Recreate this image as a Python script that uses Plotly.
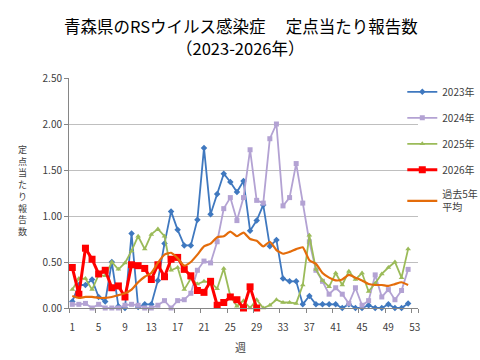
import plotly.graph_objects as go

weeks = list(range(1, 53))
weeks_2026 = list(range(1, 30))

y2023 = [0.07, 0.25, 0.25, 0.31, 0.12, 0.07, 0.50, 0.02, 0.00, 0.81,
         0.01, 0.04, 0.04, 0.30, 0.70, 1.05, 0.85, 0.68, 0.68, 0.96,
         1.74, 1.02, 1.24, 1.46, 1.37, 1.26, 1.38, 0.84, 0.95, 1.12,
         0.67, 0.74, 0.32, 0.29, 0.29, 0.04, 0.13, 0.04, 0.04, 0.04,
         0.04, 0.00, 0.04, 0.00, 0.00, 0.03, 0.00, 0.00, 0.04, 0.00,
         0.00, 0.05]
y2024 = [0.04, 0.04, 0.05, 0.00, 0.04, 0.00, 0.00, 0.00, 0.03, 0.04,
         0.03, 0.00, 0.00, 0.03, 0.08, 0.00, 0.08, 0.09, 0.16, 0.41,
         0.51, 0.49, 0.72, 1.08, 1.20, 0.95, 1.20, 1.72, 1.17, 1.14,
         1.84, 2.00, 1.11, 1.20, 1.57, 1.14, 0.72, 0.41, 0.29, 0.15,
         0.22, 0.15, 0.05, 0.22, 0.03, 0.08, 0.36, 0.12, 0.20, 0.09,
         0.19, 0.42]
y2025 = [0.20, 0.32, 0.32, 0.20, 0.36, 0.35, 0.50, 0.42, 0.49, 0.62,
         0.78, 0.64, 0.80, 0.86, 0.78, 0.41, 0.44, 0.20, 0.32, 0.26,
         0.29, 0.28, 0.21, 0.43, 0.13, 0.02, 0.08, 0.00, 0.09, 0.00,
         0.03, 0.09, 0.06, 0.06, 0.05, 0.25, 0.79, 0.42, 0.30, 0.23,
         0.38, 0.25, 0.40, 0.31, 0.38, 0.18, 0.27, 0.37, 0.44, 0.50,
         0.33, 0.64]
y2026 = [0.44, 0.15, 0.65, 0.53, 0.37, 0.41, 0.22, 0.24, 0.12, 0.47,
         0.46, 0.43, 0.31, 0.47, 0.34, 0.53, 0.55, 0.42, 0.35, 0.19,
         0.17, 0.29, 0.03, 0.06, 0.12, 0.09, 0.00, 0.23, 0.00]
y_avg = [0.13, 0.11, 0.12, 0.12, 0.11, 0.11, 0.12, 0.14, 0.16, 0.20,
         0.28, 0.34, 0.38, 0.49, 0.58, 0.60, 0.54, 0.46, 0.50, 0.58,
         0.67, 0.70, 0.77, 0.78, 0.83, 0.78, 0.82, 0.75, 0.73, 0.67,
         0.72, 0.63, 0.59, 0.61, 0.64, 0.66, 0.52, 0.48, 0.38, 0.33,
         0.30, 0.31, 0.36, 0.33, 0.30, 0.26, 0.25, 0.25, 0.24, 0.26,
         0.28, 0.25]

x_tick_vals = list(range(1, 54, 4))
x_tick_text = [str(v) for v in x_tick_vals]

title_line1 = "青森県のRSウイルス感染症　 定点当たり報告数"
title_line2 = "（2023-2026年）"

FONT = "Noto Sans CJK JP"
fig = go.Figure()

fig.add_trace(go.Scatter(x=weeks, y=y2023, name="2023年", mode="lines+markers",
                         line=dict(color="#3F78BF", width=1.8),
                         marker=dict(symbol="diamond", size=5, color="#3F78BF"),
                         cliponaxis=False, legendgroup="a"))
fig.add_trace(go.Scatter(x=weeks, y=y2024, name="2024年", mode="lines+markers",
                         line=dict(color="#B3A2D3", width=1.8),
                         marker=dict(symbol="square", size=5, color="#B3A2D3"),
                         cliponaxis=False, legendgroup="b"))
fig.add_trace(go.Scatter(x=weeks, y=y2025, name="2025年", mode="lines+markers",
                         line=dict(color="#9BBB59", width=1.8),
                         marker=dict(symbol="triangle-up", size=5, color="#9BBB59"),
                         cliponaxis=False, legendgroup="c"))
fig.add_trace(go.Scatter(x=weeks_2026, y=y2026, name="2026年", mode="lines+markers",
                         line=dict(color="#FF0000", width=3),
                         marker=dict(symbol="square", size=7, color="#FF0000"),
                         cliponaxis=False, legendgroup="d"))
fig.add_trace(go.Scatter(x=weeks, y=y_avg, name="過去5年<br>平均", mode="lines",
                         line=dict(color="#E46C0A", width=2.2, shape="spline", smoothing=0.5),
                         cliponaxis=False, legendgroup="e"))

fig.update_layout(
    width=480, height=360,
    margin=dict(l=69, r=62, t=78, b=52, autoexpand=False),
    paper_bgcolor="white", plot_bgcolor="white",
    font=dict(family=FONT, size=10, color="#404040"),
    showlegend=True,
    legend=dict(x=0.955, xanchor="left", y=1.003, yanchor="top",
                bgcolor="rgba(0,0,0,0)", font=dict(size=10, color="#404040"),
                itemwidth=30, tracegroupgap=7, traceorder="grouped"),
    xaxis=dict(range=[0.5, 53.5], tickmode="array", tickvals=x_tick_vals,
               ticktext=x_tick_text, showgrid=False, zeroline=False,
               showline=True, linecolor="#868686", linewidth=1,
               ticks="", ticklabelstandoff=10,
               minor=dict(tickvals=[v - 0.5 for v in x_tick_vals] + [53.5],
                          ticks="outside", ticklen=4, tickcolor="#868686"),
               tickfont=dict(size=10, color="#404040")),
    yaxis=dict(range=[0, 2.5], dtick=0.5, tickformat=".2f",
               showgrid=True, gridcolor="#BFBFBF", gridwidth=1,
               zeroline=False, showline=True, linecolor="#868686",
               ticks="outside", ticklen=4, tickcolor="#868686",
               tickfont=dict(size=10, color="#404040")),
    annotations=[
        dict(text=title_line1, xref="paper", yref="paper",
             x=0.492, y=1.226, xanchor="center", yanchor="middle", showarrow=False,
             font=dict(family=FONT, size=16.5, color="#000000")),
        dict(text=title_line2, xref="paper", yref="paper",
             x=0.492, y=1.130, xanchor="center", yanchor="middle", showarrow=False,
             font=dict(family=FONT, size=16.5, color="#000000")),
        dict(text="<br>".join(list("定点当たり報告数")), xref="paper", yref="paper",
             x=-0.132, y=0.513, xanchor="center", yanchor="middle", showarrow=False,
             font=dict(family=FONT, size=9, color="#404040")),
        dict(text="週", xref="paper", yref="paper", x=0.49, y=-0.17,
             xanchor="center", yanchor="middle", showarrow=False,
             font=dict(family=FONT, size=11, color="#404040")),
    ],
)

fig.write_html("out.html")
